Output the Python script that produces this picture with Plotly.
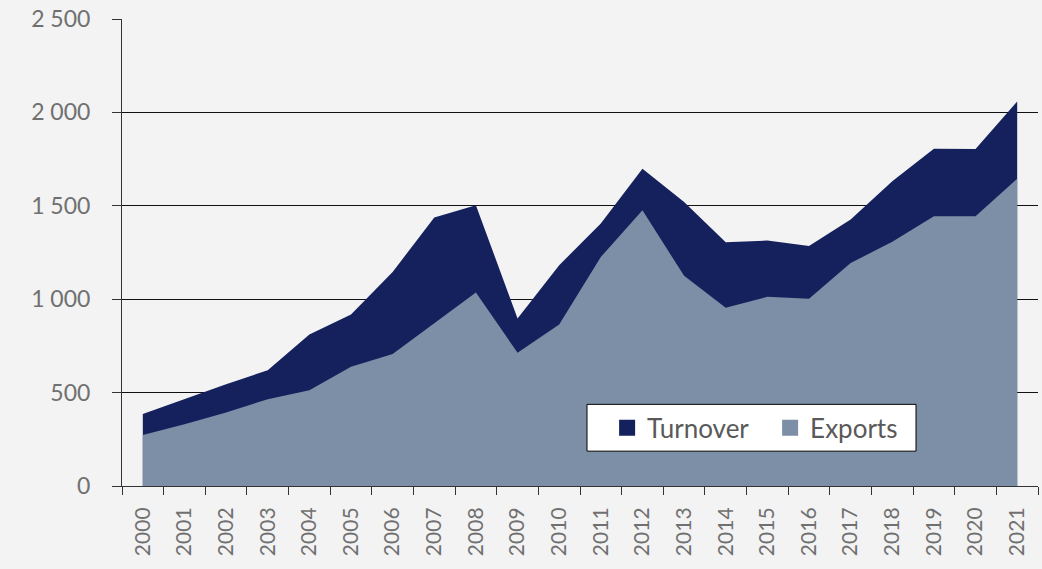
import plotly.graph_objects as go

years = [str(y) for y in range(2000, 2022)]
turnover = [385, 465, 545, 620, 811, 918, 1146, 1437, 1503, 897, 1182, 1405,
            1699, 1520, 1305, 1314, 1285, 1426, 1631, 1806, 1804, 2059]
exports = [273, 330, 394, 465, 513, 638, 706, 870, 1036, 713, 865, 1226,
           1476, 1125, 954, 1013, 1002, 1194, 1307, 1444, 1444, 1645]
y_ticks = [0, 500, 1000, 1500, 2000, 2500]
y_ticktext = ["0", "500", "1 000", "1 500", "2 000", "2 500"]

c_turn = "#15215d"
c_exp = "#7d8ea7"
bg = "#f3f3f3"
txt = "#707070"
font = "Lato"

fig = go.Figure()
fig.add_trace(go.Scatter(x=years, y=turnover, mode="lines", fill="tozeroy",
                         line=dict(width=0, color=c_turn), fillcolor=c_turn,
                         showlegend=False, hoverinfo="skip"))
fig.add_trace(go.Scatter(x=years, y=exports, mode="lines", fill="tozeroy",
                         line=dict(width=0, color=c_exp), fillcolor=c_exp,
                         showlegend=False, hoverinfo="skip"))
# legend entries
fig.add_trace(go.Scatter(x=[None], y=[None], mode="markers", name="Turnover",
                         marker=dict(symbol="square", size=17, color=c_turn)))
fig.add_trace(go.Scatter(x=[None], y=[None], mode="markers", name="Exports",
                         marker=dict(symbol="square", size=17, color=c_exp)))

# legend frame
fig.add_shape(type="rect", xref="paper", yref="paper",
              x0=(587 - 122) / 916, x1=(916 - 122) / 916,
              y0=(486 - 451) / 469, y1=(486 - 404) / 469,
              fillcolor="white", line=dict(color="black", width=1), layer="above")

fig.update_layout(
    width=1042, height=569,
    margin=dict(l=122, r=4, t=17, b=83),
    paper_bgcolor=bg, plot_bgcolor=bg,
    font=dict(family=font, color=txt),
    legend=dict(orientation="h", x=0.5296, y=0.175, xanchor="left", yanchor="top",
                bgcolor="rgba(0,0,0,0)", borderwidth=0,
                font=dict(size=26, color="#595959"),
                itemsizing="trace", traceorder="normal",
                entrywidth=118),
    xaxis=dict(type="category", categoryorder="array", categoryarray=years,
               range=[-0.5, 21.5], tickangle=-90, tickson="boundaries",
               ticks="outside", ticklen=8, tickcolor="#333333",
               showline=True, linecolor="#333333", linewidth=1,
               showgrid=False, tickfont=dict(size=21, color=txt),
               ticklabelstandoff=12, fixedrange=True),
    yaxis=dict(range=[0, 2500], tickvals=y_ticks, ticktext=y_ticktext,
               ticks="outside", ticklen=9, tickcolor="#333333",
               showline=True, linecolor="#333333", linewidth=1,
               showgrid=True, gridcolor="#111111", gridwidth=1,
               zeroline=False, tickfont=dict(size=23, color=txt),
               ticklabelstandoff=17, fixedrange=True),
)

fig.write_html("out.html", config={"displayModeBar": False},
               post_script="document.body.style.margin='0';document.body.style.background='#f3f3f3';")
